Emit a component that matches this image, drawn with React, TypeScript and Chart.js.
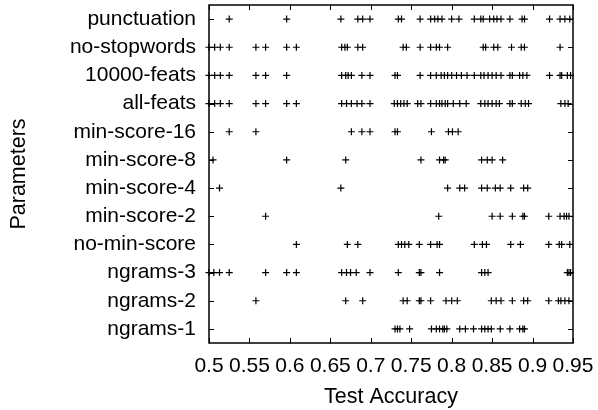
import React, { useEffect, useRef } from "react";
import { Chart, registerables } from "chart.js";

Chart.register(...registerables);

// Categories from bottom (y = 1) to top (y = 12)
const categories = [
  "ngrams-1",
  "ngrams-2",
  "ngrams-3",
  "no-min-score",
  "min-score-2",
  "min-score-4",
  "min-score-8",
  "min-score-16",
  "all-feats",
  "10000-feats",
  "no-stopwords",
  "punctuation",
];

const xTicks = [0.5, 0.55, 0.6, 0.65, 0.7, 0.75, 0.8, 0.85, 0.9, 0.95];

const ngrams1 = [0.730, 0.733, 0.736, 0.748, 0.775, 0.781, 0.785, 0.789, 0.791, 0.794, 0.810, 0.817, 0.827, 0.837, 0.841, 0.845, 0.849, 0.860, 0.872, 0.884, 0.888, 0.890];
const ngrams2 = [0.558, 0.669, 0.690, 0.740, 0.745, 0.760, 0.762, 0.774, 0.793, 0.800, 0.807, 0.849, 0.855, 0.861, 0.875, 0.889, 0.894, 0.920, 0.932, 0.935, 0.940, 0.945];
const ngrams3 = [0.500, 0.506, 0.513, 0.525, 0.570, 0.596, 0.608, 0.664, 0.670, 0.675, 0.682, 0.699, 0.734, 0.760, 0.762, 0.785, 0.837, 0.841, 0.845, 0.943, 0.945, 0.947];
const noMinScore = [0.608, 0.671, 0.684, 0.734, 0.738, 0.742, 0.747, 0.760, 0.774, 0.782, 0.785, 0.828, 0.838, 0.843, 0.873, 0.885, 0.920, 0.933, 0.936, 0.946];
const minScore2 = [0.570, 0.784, 0.850, 0.860, 0.875, 0.888, 0.890, 0.920, 0.934, 0.939, 0.942, 0.945];
const minScore4 = [0.513, 0.663, 0.795, 0.810, 0.816, 0.837, 0.844, 0.854, 0.860, 0.873, 0.889, 0.894];
const minScore8 = [0.505, 0.596, 0.669, 0.762, 0.785, 0.790, 0.792, 0.837, 0.844, 0.850, 0.863];
const minScore16 = [0.525, 0.558, 0.676, 0.689, 0.699, 0.730, 0.733, 0.775, 0.796, 0.801, 0.808];
const allFeats = [0.500, 0.507, 0.514, 0.525, 0.558, 0.570, 0.596, 0.608, 0.664, 0.670, 0.676, 0.683, 0.689, 0.699, 0.729, 0.733, 0.737, 0.741, 0.745, 0.758, 0.762, 0.774, 0.781, 0.785, 0.788, 0.792, 0.795, 0.802, 0.810, 0.818, 0.836, 0.841, 0.845, 0.850, 0.855, 0.859, 0.872, 0.875, 0.886, 0.891, 0.895, 0.935, 0.940, 0.944];
const feats10000 = [0.500, 0.507, 0.514, 0.525, 0.558, 0.570, 0.596, 0.664, 0.669, 0.672, 0.676, 0.689, 0.699, 0.730, 0.733, 0.761, 0.774, 0.781, 0.787, 0.791, 0.795, 0.800, 0.806, 0.812, 0.819, 0.828, 0.836, 0.840, 0.845, 0.850, 0.855, 0.861, 0.872, 0.875, 0.884, 0.888, 0.893, 0.921, 0.934, 0.936, 0.943, 0.947];
const noStopwords = [0.500, 0.507, 0.514, 0.525, 0.558, 0.570, 0.596, 0.608, 0.664, 0.668, 0.671, 0.684, 0.690, 0.740, 0.744, 0.761, 0.774, 0.781, 0.785, 0.795, 0.839, 0.842, 0.852, 0.857, 0.874, 0.886, 0.890, 0.934];
const punctuation = [0.525, 0.596, 0.663, 0.684, 0.690, 0.699, 0.734, 0.738, 0.761, 0.774, 0.779, 0.783, 0.788, 0.800, 0.809, 0.828, 0.836, 0.839, 0.847, 0.852, 0.856, 0.861, 0.872, 0.887, 0.890, 0.921, 0.934, 0.940, 0.946];

const seriesByCategory = [
  ngrams1,
  ngrams2,
  ngrams3,
  noMinScore,
  minScore2,
  minScore4,
  minScore8,
  minScore16,
  allFeats,
  feats10000,
  noStopwords,
  punctuation,
];

const FONT = "'Liberation Sans', Arial, Helvetica, sans-serif";

const framePlugin = {
  id: "frameTicks",
  afterDatasetsDraw(chart: any) {
    const { ctx, chartArea } = chart;
    const { left, right, top, bottom } = chartArea;
    const xs = chart.scales.x;
    const ys = chart.scales.y;
    const tl = 5;
    ctx.save();
    ctx.strokeStyle = "#000";
    ctx.lineWidth = 1;
    ctx.beginPath();
    xs.ticks.forEach((t: any) => {
      const px = Math.round(xs.getPixelForValue(t.value)) + 0.5;
      ctx.moveTo(px, bottom);
      ctx.lineTo(px, bottom - tl);
      ctx.moveTo(px, top);
      ctx.lineTo(px, top + tl);
    });
    ys.ticks.forEach((t: any) => {
      const py = Math.round(ys.getPixelForValue(t.value)) + 0.5;
      ctx.moveTo(left, py);
      ctx.lineTo(left + tl, py);
      ctx.moveTo(right, py);
      ctx.lineTo(right - tl, py);
    });
    ctx.stroke();
    ctx.lineWidth = 1.5;
    ctx.strokeRect(left, top, right - left, bottom - top);
    ctx.restore();
  },
};

export default function App() {
  const ref = useRef<HTMLCanvasElement>(null);

  useEffect(() => {
    if (!ref.current) return;
    const points: { x: number; y: number }[] = [];
    seriesByCategory.forEach((vals, i) => {
      vals.forEach((v) => points.push({ x: v, y: i + 1 }));
    });

    const chart = new Chart(ref.current, {
      type: "scatter",
      data: {
        datasets: [
          {
            data: points,
            pointStyle: "cross",
            pointRadius: 3.5,
            pointHoverRadius: 3.5,
            pointBorderWidth: 1.2,
            borderColor: "#000",
            backgroundColor: "#000",
            clip: false as any,
          },
        ],
      },
      options: {
        animation: false,
        responsive: false,
        layout: { autoPadding: false, padding: { left: 0, right: 25, top: 5, bottom: 0 } },
        plugins: { legend: { display: false }, tooltip: { enabled: false } },
        scales: {
          x: {
            type: "linear",
            min: 0.5,
            max: 0.95,
            afterBuildTicks: (scale: any) => {
              scale.ticks = xTicks.map((v) => ({ value: v }));
            },
            afterFit: (scale: any) => {
              scale.height = 67;
              scale.paddingLeft = 0;
              scale.paddingRight = 0;
            },
            grid: { display: false, drawTicks: false },
            border: { display: false },
            ticks: {
              color: "#000",
              font: { family: FONT, size: 21 },
              padding: 11,
              maxRotation: 0,
              autoSkip: false,
              callback: (v: any) => String(Number(Number(v).toFixed(2))),
            },
            title: {
              display: true,
              text: "Test Accuracy",
              color: "#000",
              font: { family: FONT, size: 21.5 },
              padding: { top: 0, bottom: 0 },
            },
          },
          y: {
            type: "linear",
            min: 0.5,
            max: 12.5,
            afterBuildTicks: (scale: any) => {
              scale.ticks = categories.map((_, i) => ({ value: i + 1 }));
            },
            afterFit: (scale: any) => {
              scale.width = 209;
              scale.paddingTop = 0;
              scale.paddingBottom = 0;
            },
            grid: { display: false, drawTicks: false },
            border: { display: false },
            ticks: {
              color: "#000",
              font: { family: FONT, size: 21 },
              padding: 13,
              autoSkip: false,
              callback: (v: any) => categories[Math.round(Number(v)) - 1] ?? "",
            },
            title: {
              display: true,
              text: "Parameters",
              color: "#000",
              font: { family: FONT, size: 21.5 },
              padding: { top: 6, bottom: 0 },
            },
          },
        },
      },
      plugins: [framePlugin],
    });
    return () => chart.destroy();
  }, []);

  return (
    <div style={{ position: "absolute", left: 0, top: 0, width: 598, height: 410, background: "#fff" }}>
      <canvas ref={ref} width={598} height={410} style={{ display: "block" }} />
    </div>
  );
}
